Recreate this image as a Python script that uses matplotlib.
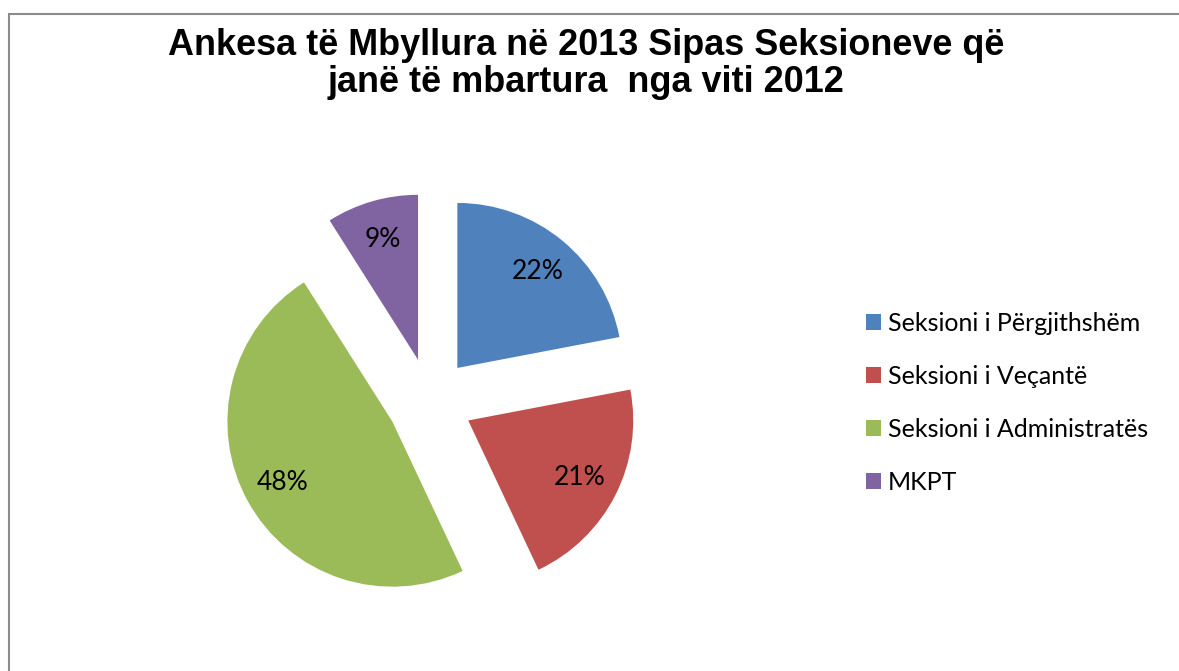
import matplotlib
matplotlib.use("Agg")
import matplotlib.pyplot as plt
from matplotlib.patches import Rectangle

title = "Ankesa të Mbyllura në 2013 Sipas Seksioneve që\njanë të mbartura  nga viti 2012"
categories = ["Seksioni i Përgjithshëm", "Seksioni i Veçantë", "Seksioni i Administratës", "MKPT"]
values = [22, 21, 48, 9]
colors = ["#4F81BD", "#C0504D", "#9BBB59", "#8064A2"]

W, H = 1179, 671
fig = plt.figure(figsize=(W / 100, H / 100), dpi=100)
fig.patch.set_facecolor("white")

# frame
fig.add_artist(Rectangle((9 / W, -0.05), 1.2, (H - 14) / H + 0.05, transform=fig.transFigure,
                         fill=False, edgecolor="#8c8c8c", linewidth=1.5))

ax = fig.add_axes([0, 0, 1, 1])
R = 165.0
cx, cy = 430.0, 401.0
wedges, texts, autotexts = ax.pie(values, colors=colors, startangle=90, counterclock=False,
                                  explode=[0.26] * 4, radius=1, center=(0, 0),
                                  autopct=lambda p: f"{p:.0f}%", pctdistance=0.76,
                                  textprops=dict(fontsize=19, family="Lato", color="black"),
                                  wedgeprops=dict(linewidth=0))
ax.set_xlim(-cx / R, (W - cx) / R)
ax.set_ylim(-(H - cy) / R, cy / R)
ax.set_aspect("auto")
ax.axis("off")

fig.text(0.497, 1 - 64 / H, title, ha="center", va="center", fontsize=25.9, fontweight="bold",
         family="Liberation Sans", linespacing=1.05)

leg = fig.legend(wedges, categories, loc="center left", bbox_to_anchor=(843 / W, 1 - 403 / H),
                 frameon=False, prop=dict(family="Lato", size=18),
                 handlelength=0.6, handleheight=0.6, handletextpad=0.3, labelspacing=1.2)

fig.savefig("out.png", dpi=100)
